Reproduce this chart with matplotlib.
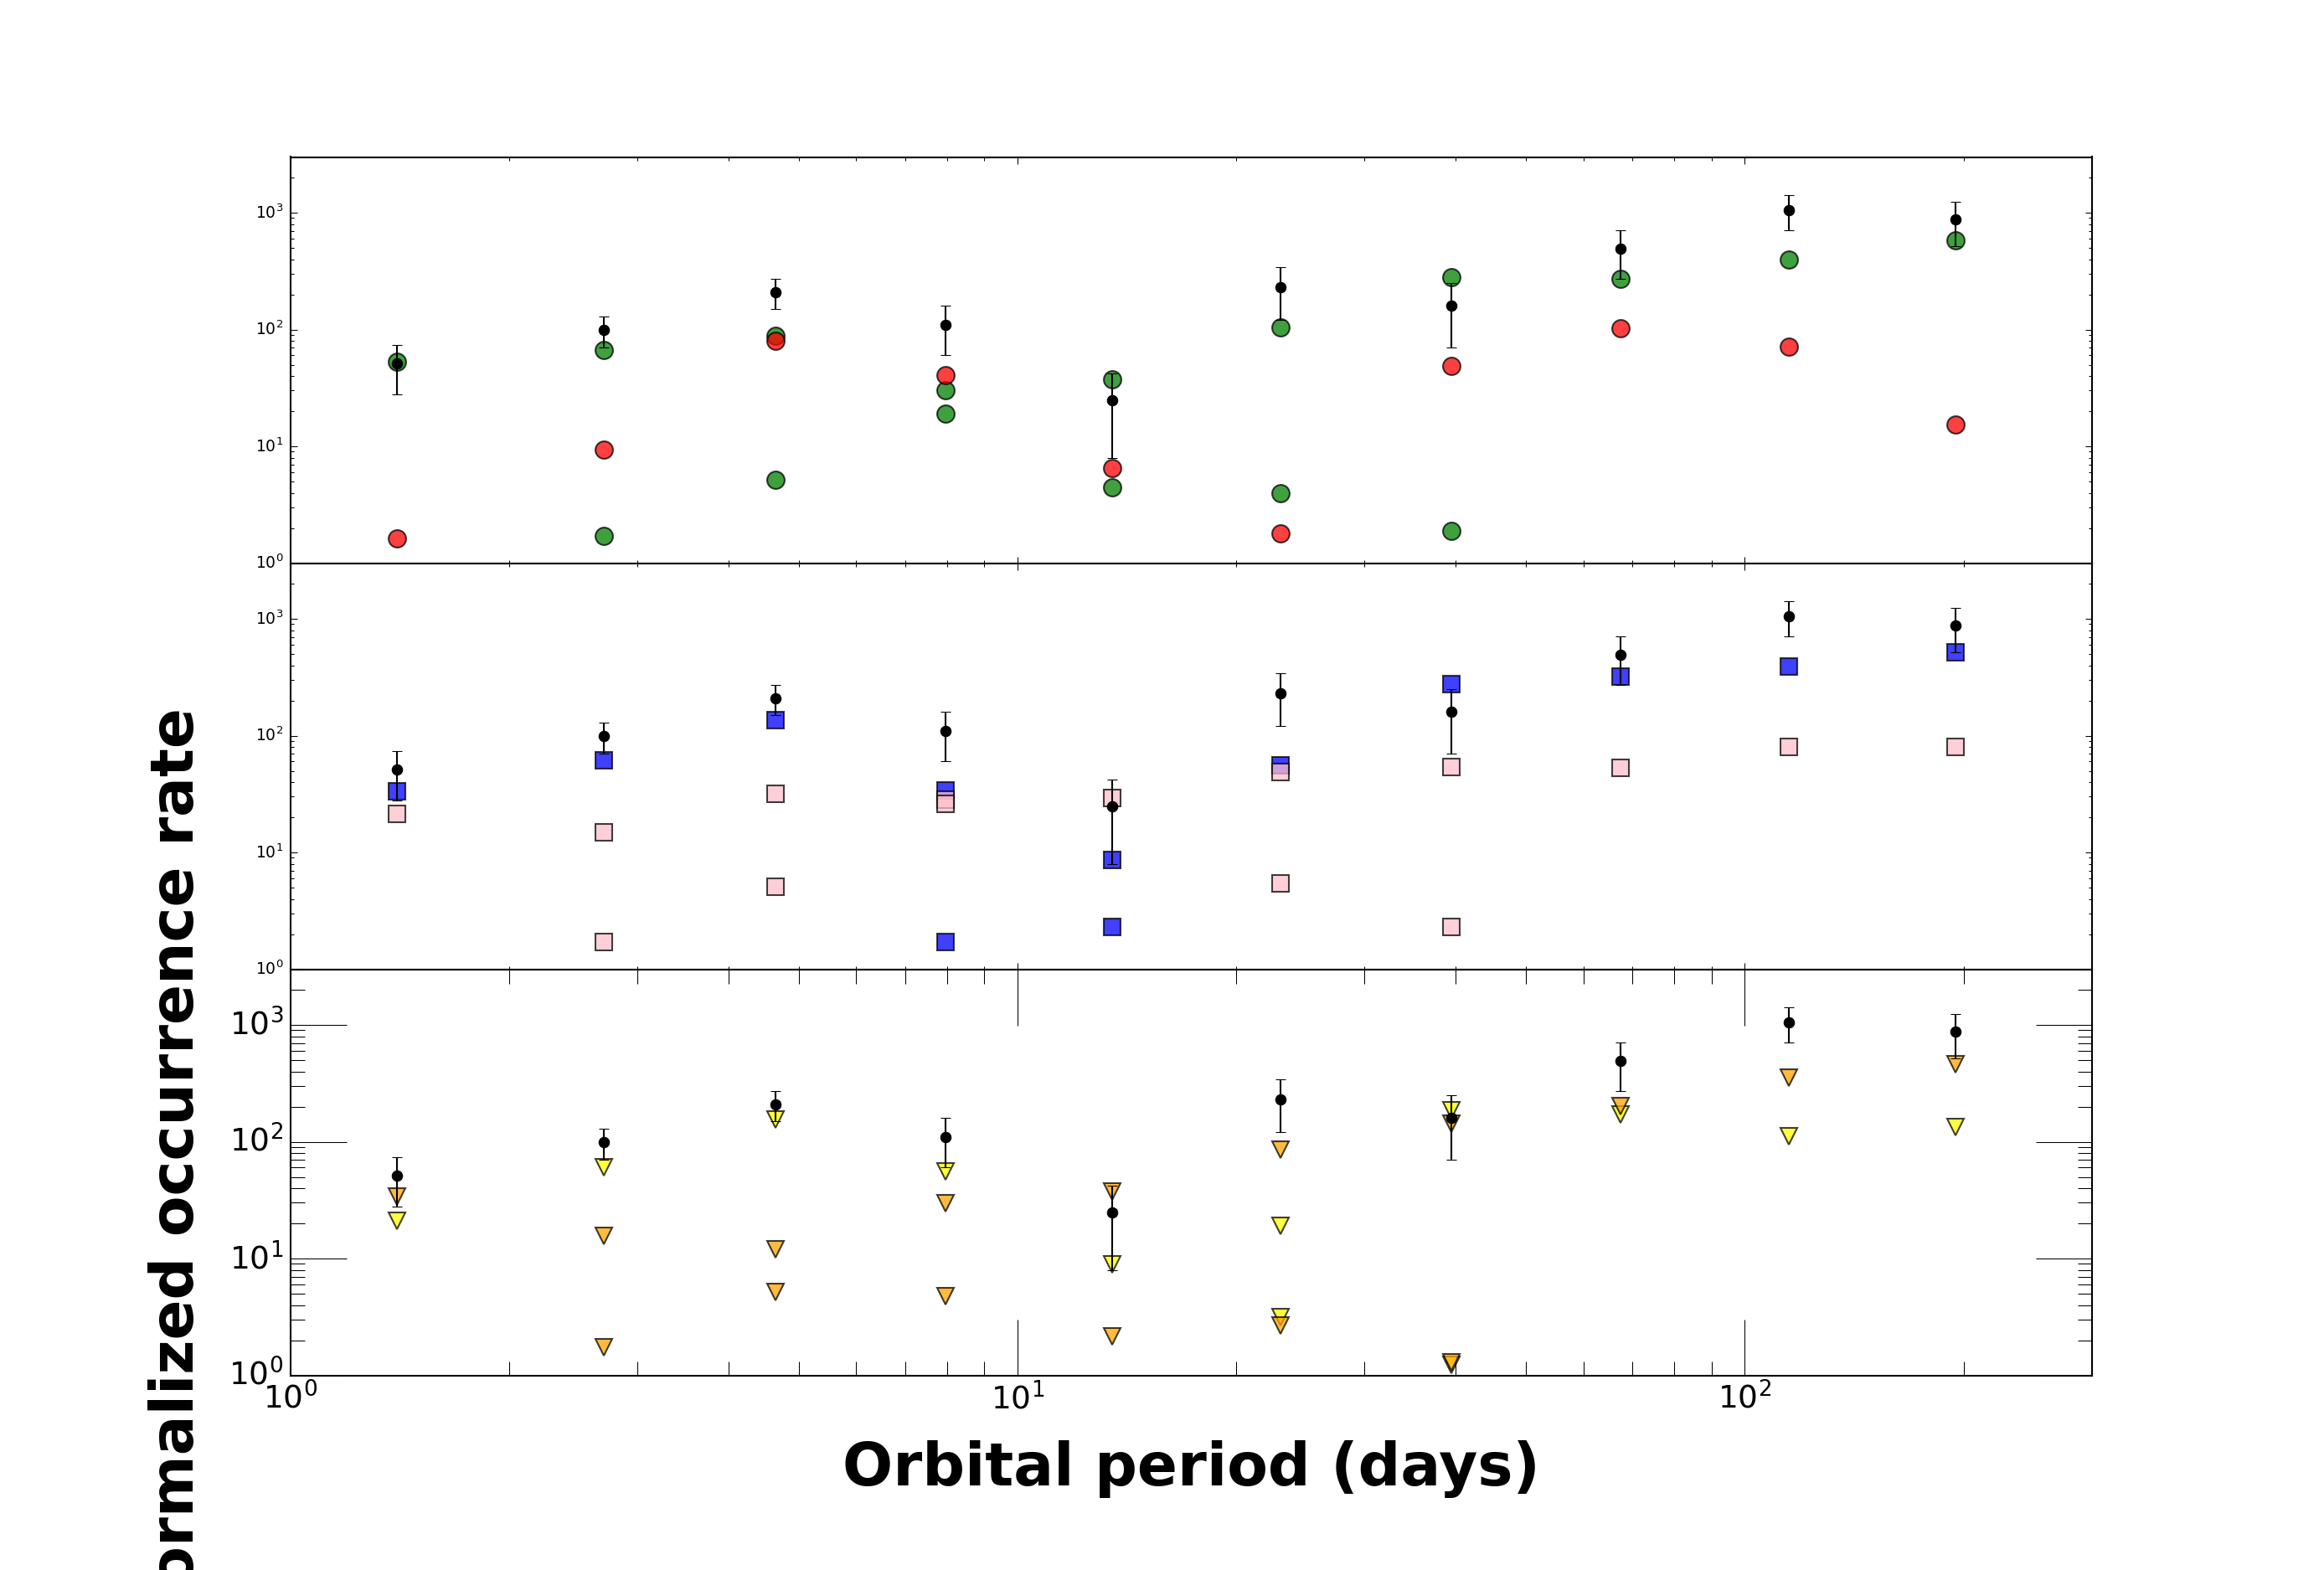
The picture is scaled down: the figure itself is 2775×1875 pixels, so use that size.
import numpy as np
import matplotlib
matplotlib.use('Agg')
import matplotlib.pyplot as plt

plt.style.use('classic')

nan = np.nan

# bin centres (days)
period = np.array([1.40, 2.70, 4.65, 7.96, 13.5, 23.0, 39.5, 67.4, 115, 195])

# total occurrence rate with error bar limits (same in every panel)
rate = np.array([51, 100, 210, 110, 25, 230, 159, 490, 1050, 880])
rate_hi = np.array([74, 130, 270, 161, 42, 341, 250, 710, 1410, 1240])
rate_lo = np.array([28, 70, 150, 60, 7.9, 120, 70, 270, 703, 521])

# top panel
green_a = [52.7, 66.9, 89, 30, 37.6, 105, 281, 270, 400, 582]
green_b = [nan, 1.70, 5.13, 19.2, 4.44, 3.94, 1.89, nan, nan, nan]
red = [1.62, 9.4, 80.6, 40.7, 6.5, 1.79, 49, 102, 71.4, 15.4]

# middle panel
blue_a = [33.3, 61.5, 135, 34, 8.63, 55.7, 274, 318, 392, 517]
blue_b = [nan, nan, nan, 1.72, 2.31, nan, nan, nan, nan, nan]
pink_a = [21.4, 14.9, 31.9, 28.4, 29.2, 48.8, 53.9, 53.3, 80.5, 80.5]
pink_b = [nan, 1.72, 5.12, 26.1, nan, 5.47, 2.31, nan, nan, nan]

# bottom panel
yellow_a = [21.0, 60.6, 154, 55.6, 8.84, 19.0, 186, 170, 112, 134]
yellow_b = [nan, nan, nan, nan, nan, 3.13, 1.23, nan, nan, nan]
orange_a = [34.1, 15.7, 11.9, 29.9, 37.4, 85.4, 143, 203, 355, 458]
orange_b = [nan, 1.73, 5.2, 4.76, 2.15, 2.69, 1.30, nan, nan, nan]

panels = [
    [(green_a, 'green', 'o'), (green_b, 'green', 'o'), (red, 'red', 'o')],
    [(blue_a, 'blue', 's'), (blue_b, 'blue', 's'),
     (pink_a, 'pink', 's'), (pink_b, 'pink', 's')],
    [(yellow_a, 'yellow', 'v'), (yellow_b, 'yellow', 'v'),
     (orange_a, 'orange', 'v'), (orange_b, 'orange', 'v')],
]

fig, axes = plt.subplots(3, 1, sharex=True, figsize=(18.5, 12.5), dpi=150,
                         facecolor='white')
fig.subplots_adjust(left=0.125, right=0.9, top=0.9, bottom=0.124, hspace=0)

yerr = [rate - rate_lo, rate_hi - rate]

for ax, series in zip(axes, panels):
    for vals, col, mk in series:
        ax.plot(period, vals, ls='none', marker=mk, ms=10, mfc=col,
                mec='k', mew=1, alpha=0.75)
    ax.errorbar(period, rate, yerr=yerr, fmt='ko', ms=6, capsize=3,
                elinewidth=1)
    ax.set_xscale('log')
    ax.set_yscale('log')
    ax.set_xlim(1, 300)
    ax.set_ylim(1, 3000)
    ax.tick_params(which='major', labelsize=9)

# bottom panel has big ticks
ax3 = axes[2]
ax3.tick_params(which='major', length=32, labelsize=18)
ax3.tick_params(which='minor', length=8)

ax3.set_xlabel('Orbital period (days)', fontsize=34, fontweight='bold',
               labelpad=14)
ax3.set_ylabel('Normalized occurrence rate', fontsize=34, fontweight='bold',
               labelpad=13)

fig.savefig('out.png', dpi=150, facecolor='white')
